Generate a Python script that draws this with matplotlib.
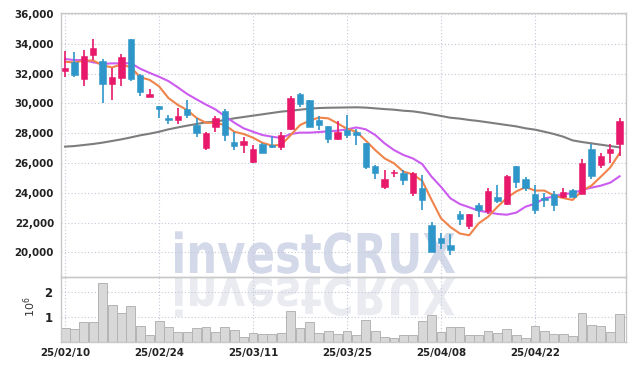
import numpy as np
import matplotlib
matplotlib.use('Agg')
import matplotlib.pyplot as plt
from matplotlib.textpath import TextPath
from matplotlib.patches import PathPatch
from matplotlib.font_manager import FontProperties
from matplotlib.transforms import Affine2D

# Daily candles, one per trading day (index 0 = 25/02/10)
open_ = [32150, 32750, 31650, 33250, 32850, 31300, 31700, 34350, 31900, 30400,
         29850, 29000, 28900, 29600, 28550, 27000, 28450, 29500, 27400, 27200,
         26100, 27300, 27200, 27100, 28300, 30600, 30250, 28900, 28500, 27600,
         28250, 28050, 27350, 25800, 24400, 25300, 25350, 24000, 24350, 21850,
         20950, 20500, 22600, 21800, 23200, 22750, 23700, 23250, 25800, 24950,
         23950, 23650, 23950, 23700, 24200, 23950, 26950, 25850, 26700, 27300]
high = [33500, 33450, 33600, 34300, 33000, 32400, 33350, 34350, 32000, 31000,
        29850, 29250, 29700, 30250, 29050, 28100, 29150, 29650, 28100, 27750,
        27200, 27350, 27800, 28050, 30500, 30700, 30250, 29150, 28500, 28800,
        29200, 28300, 27350, 25900, 25550, 25550, 25550, 25400, 25200, 22050,
        21300, 21250, 22800, 22600, 23350, 24350, 24500, 25200, 25800, 25050,
        24550, 24000, 24100, 24350, 24250, 26300, 27300, 26700, 27300, 29050]
low = [31800, 31750, 31150, 32900, 30000, 30200, 31200, 31500, 30500, 30400,
       29050, 28650, 28600, 29050, 27750, 26900, 28100, 27500, 26900, 26700,
       26000, 26650, 27000, 26900, 28250, 29750, 28400, 28200, 27350, 27550,
       27650, 27200, 25600, 24950, 24250, 25050, 24500, 23800, 22850, 20000,
       20250, 19850, 21850, 21600, 22350, 22600, 23300, 23200, 24350, 24100,
       22550, 23050, 22800, 23650, 23700, 23900, 24950, 25650, 26000, 26450]
close = [32400, 31900, 33200, 33750, 31300, 31750, 33150, 31650, 30800, 30650,
         29600, 28900, 29150, 29250, 28000, 28000, 29050, 27900, 27150, 27450,
         26950, 26700, 27100, 27850, 30350, 29950, 28450, 28550, 27600, 28050,
         27900, 27900, 25750, 25300, 24900, 25400, 24850, 25350, 23500, 20050,
         20600, 20150, 22250, 22600, 22850, 24100, 23450, 25100, 24750, 24350,
         22850, 23500, 23200, 24050, 23750, 26000, 25150, 26450, 26950, 28800]
# volume in millions of shares
volume_m = [0.57, 0.53, 0.80, 0.80, 2.37, 1.49, 1.17, 1.45, 0.65, 0.29,
            0.85, 0.61, 0.41, 0.41, 0.57, 0.61, 0.41, 0.61, 0.49, 0.21,
            0.37, 0.33, 0.33, 0.37, 1.25, 0.57, 0.81, 0.37, 0.45, 0.33,
            0.45, 0.29, 0.89, 0.45, 0.21, 0.17, 0.29, 0.29, 0.85, 1.09,
            0.41, 0.61, 0.61, 0.29, 0.29, 0.45, 0.37, 0.53, 0.29, 0.17,
            0.65, 0.45, 0.33, 0.33, 0.25, 1.17, 0.69, 0.65, 0.41, 1.13]

# moving averages as drawn (short, medium, long)
ma_short = [32800, 32750, 32870, 32880, 32550, 32420, 32620, 32420, 31760, 31580,
            31150, 30360, 29900, 29550, 29020, 28700, 28700, 28550, 28100, 27950,
            27700, 27360, 27170, 27220, 27870, 28550, 28840, 29050, 29000, 28660,
            28300, 28100, 27500, 26870, 26310, 25980, 25420, 25240, 24800, 23520,
            22290, 21700, 21270, 21150, 21950, 22390, 23060, 23660, 24090, 24380,
            24150, 24150, 23820, 23650, 23520, 24150, 24480, 25080, 25700, 26660]
ma_mid = [32980, 32910, 32910, 32760, 32650, 32690, 32690, 32700, 32330, 32050,
          31790, 31500, 31080, 30630, 30270, 29920, 29600, 29150, 28710, 28330,
          28100, 27880, 27770, 27680, 27950, 28040, 28040, 28080, 28130, 28170,
          28260, 28390, 28260, 27880, 27320, 26870, 26540, 26310, 25930, 25080,
          24400, 23630, 23250, 23030, 22800, 22700, 22580, 22530, 22670, 23070,
          23270, 23630, 23740, 23920, 23970, 24190, 24350, 24480, 24680, 25110]
ma_long = [27100, 27140, 27210, 27280, 27370, 27480, 27590, 27720, 27860, 27970,
           28100, 28260, 28390, 28510, 28620, 28730, 28780, 28890, 29000, 29090,
           29180, 29270, 29360, 29450, 29510, 29580, 29650, 29690, 29710, 29720,
           29730, 29740, 29720, 29670, 29620, 29580, 29510, 29470, 29380, 29270,
           29160, 29040, 28980, 28890, 28820, 28730, 28640, 28550, 28460, 28330,
           28240, 28100, 27950, 27770, 27520, 27410, 27320, 27230, 27140, 27050]

tick_idx = [0, 10, 20, 30, 40, 50]
tick_labels = ['25/02/10', '25/02/24', '25/03/11', '25/03/25', '25/04/08', '25/04/22']
price_ticks = [20000, 22000, 24000, 26000, 28000, 30000, 32000, 34000, 36000]

UP = '#e8196b'
DOWN = '#2f96c9'
GRID = '#c4c8d8'
SPINE = '#c8c8c8'
W, H = 634, 370

plt.rcParams['font.family'] = ['DejaVu Sans']

fig = plt.figure(figsize=(W / 100, H / 100), dpi=100)
fig.patch.set_facecolor('white')
ax = fig.add_axes([61 / W, 1 - 277 / H, 565 / W, 264 / H])
axv = fig.add_axes([61 / W, 1 - 342 / H, 565 / W, 65 / H], sharex=ax)

x = np.arange(len(close))
o = np.array(open_)
c = np.array(close)
colors = [UP if cc >= oo else DOWN for oo, cc in zip(o, c)]

# watermark and its reflection, drawn behind both panels
prop = FontProperties(family='DejaVu Sans', weight='bold')
tp = TextPath((0, 0), 'investCRUX', size=1, prop=prop)
ext = tp.get_extents()
sx = 280 / ext.width
sy = 40 / 0.729
tr = Affine2D().translate(-ext.x0, 0).scale(sx, sy).translate(175, H - 273)
fig.add_artist(PathPatch(tp, transform=tr, fc='#d3d9e9', ec='none', zorder=-2))
tr2 = Affine2D().translate(-ext.x0, 0).scale(sx, -sy * 0.93).translate(175, H - 278)
fig.add_artist(PathPatch(tp, transform=tr2, fc='#e9ebf1', ec='none', zorder=-2))

for a in (ax, axv):
    a.set_facecolor('none')
    for s in a.spines.values():
        s.set_color(SPINE)
        s.set_linewidth(1.0)
    a.grid(True, color=GRID, linestyle=(0, (1, 2)), linewidth=0.8)
    a.set_axisbelow(True)
    a.tick_params(length=0, colors='#222222', labelsize=7.4)

# price panel
ax.plot(x, ma_long, color='#7d7d7d', lw=1.5, zorder=2)
ax.plot(x, ma_mid, color='#cc5cf0', lw=1.5, zorder=2)
ax.plot(x, ma_short, color='#f0834a', lw=1.5, zorder=2)
ax.vlines(x, low, high, colors=colors, lw=1.2, zorder=3)
body = np.maximum(np.abs(c - o), 60)
ax.bar(x, body, bottom=np.minimum(o, c), width=0.68, color=colors,
       edgecolor=colors, linewidth=0.4, zorder=4)
ax.set_ylim(18350, 36070)
ax.set_yticks(price_ticks)
ax.set_yticklabels([f'{p:,}' for p in price_ticks], fontweight='bold')
ax.tick_params(axis='x', labelbottom=False)
ax.tick_params(axis='y', pad=5)

# volume panel
axv.bar(x, volume_m, width=0.95, color='#d8d8d8', edgecolor='#b4b4b4',
        linewidth=0.7, zorder=2)
axv.set_ylim(0, 2.59)
axv.set_yticks([1, 2])
axv.set_yticklabels(['1', '2'], fontweight='bold', fontsize=8.5)
axv.tick_params(axis='y', pad=6)
axv.set_ylabel(r'$10^6$', fontsize=8, color='#333333')
axv.yaxis.set_label_coords(-0.041, 0.55)

axv.set_xlim(-0.43, 59.68)
axv.set_xticks(tick_idx)
axv.set_xticklabels(tick_labels, fontweight='bold')
axv.tick_params(axis='x', pad=4)

fig.savefig('out.png', dpi=100)
